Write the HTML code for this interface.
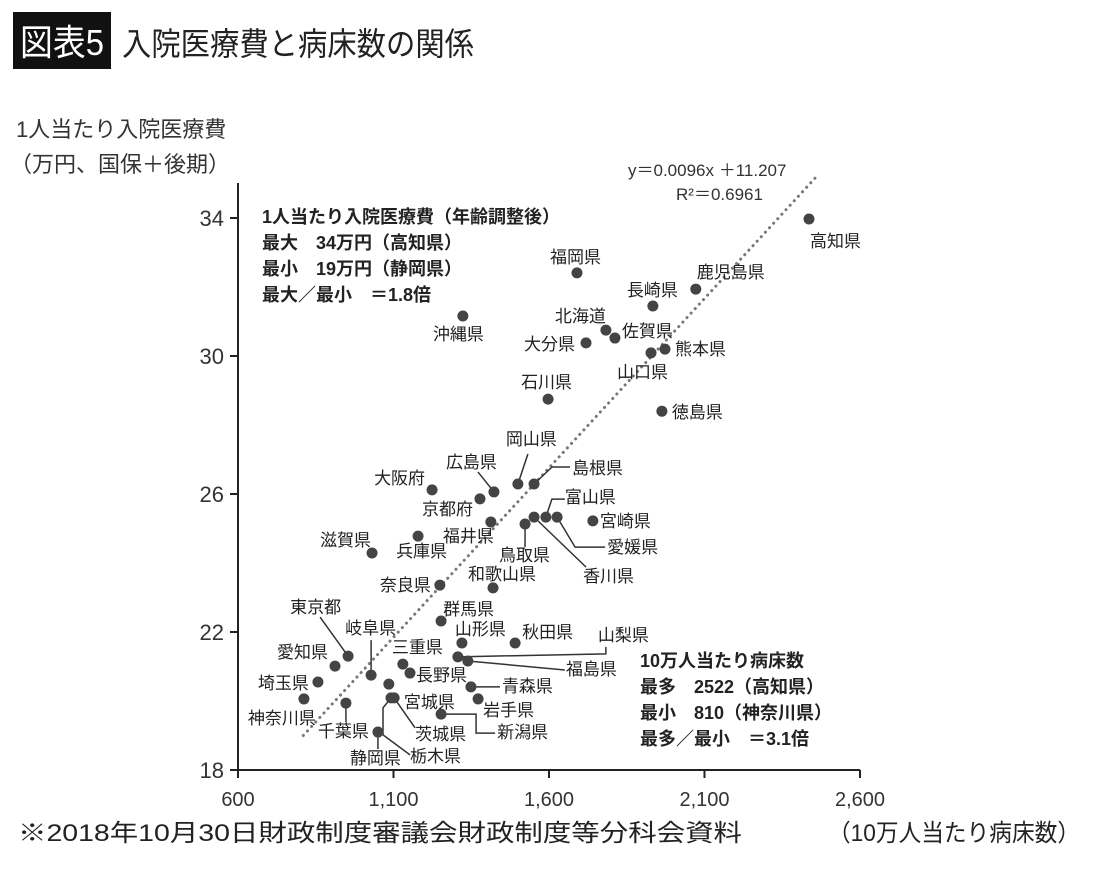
<!DOCTYPE html>
<html><head><meta charset="utf-8"><style>
body{margin:0;background:#fff;}
svg{display:block;font-family:"Liberation Sans","Noto Sans CJK JP",sans-serif;}
</style></head><body>
<svg id="chart" width="1100" height="870" viewBox="0 0 1100 870">
<rect x="13" y="12" width="98" height="57" fill="#111"/>
<text x="62" y="55" fill="#fff" font-size="36" text-anchor="middle" textLength="84" lengthAdjust="spacingAndGlyphs">図表5</text>
<text x="122" y="55" fill="#222" font-size="32" textLength="352" lengthAdjust="spacingAndGlyphs">入院医療費と病床数の関係</text>
<text x="16" y="137" fill="#333" font-size="22">1人当たり入院医療費</text>
<text x="10" y="172" fill="#333" font-size="22">（万円、国保＋後期）</text>
<text x="628" y="176" fill="#333" font-size="17">y＝0.0096x ＋11.207</text>
<text x="676" y="200" fill="#333" font-size="17">R²＝0.6961</text>
<g font-size="18" fill="#222" font-weight="bold">
<text x="262" y="223">1人当たり入院医療費（年齢調整後）</text>
<text x="262" y="249">最大　34万円（高知県）</text>
<text x="262" y="275">最小　19万円（静岡県）</text>
<text x="262" y="301">最大／最小　＝1.8倍</text>
</g>
<g font-size="18" fill="#222" font-weight="bold">
<text x="640" y="667">10万人当たり病床数</text>
<text x="640" y="693">最多　2522（高知県）</text>
<text x="640" y="719">最小　810（神奈川県）</text>
<text x="640" y="745">最多／最小　＝3.1倍</text>
</g>
<text x="18" y="841" fill="#222" font-size="24" textLength="724" lengthAdjust="spacingAndGlyphs">※2018年10月30日財政制度審議会財政制度等分科会資料</text>
<text x="828" y="841" fill="#222" font-size="24" textLength="252" lengthAdjust="spacingAndGlyphs">（10万人当たり病床数）</text>
<g id="axes"></g>
<g id="marks"></g>
</svg>
<script>
const prefectures=["高知県","鹿児島県","福岡県","長崎県","北海道","佐賀県","大分県","熊本県","山口県","沖縄県","石川県","徳島県","岡山県","島根県","広島県","大阪府","京都府","福井県","宮崎県","鳥取県","香川県","富山県","愛媛県","兵庫県","滋賀県","奈良県","和歌山県","群馬県","山形県","秋田県","三重県","山梨県","福島県","長野県","東京都","愛知県","岐阜県","埼玉県","宮城県","青森県","岩手県","神奈川県","茨城県","栃木県","千葉県","新潟県","静岡県"];
const beds=[2436,2072,1690,1934,1783,1812,1719,1973,1928,1323,1597,1963,1500,1552,1423,1224,1378,1413,1741,1523,1552,1590,1626,1179,1031,1249,1420,1253,1320,1491,1130,1307,1339,1153,954,912,1028,857,1085,1349,1372,812,1102,1092,947,1253,1050];
const costs=[33.97,31.94,32.41,31.45,30.75,30.52,30.38,30.20,30.09,31.16,28.75,28.40,26.29,26.29,26.06,26.12,25.86,25.19,25.22,25.13,25.33,25.33,25.33,24.78,24.29,23.36,23.28,22.32,21.68,21.68,21.07,21.28,21.16,20.81,21.30,21.01,20.75,20.55,20.49,20.41,20.06,20.06,20.09,20.09,19.94,19.62,19.10];
const xTicks=[600,1100,1600,2100,2600];
const xTickLabels=["600","1,100","1,600","2,100","2,600"];
const yTicks=[18,22,26,30,34];
const trendX=[810,2460];
const trendY=[19.0,35.2];
const labelLayout=[[1,28],[1,-11],[-27,-10],[-26,-10],[-51,-8],[7,-1],[-62,7],[10,6],[-34,25],[-30,24],[-27,-11],[10,7],
[-12,-39,[[0,0],[10,-30]]],[38,-10,[[0,0],[18,-17],[36,-17]]],[-48,-24,[[0,0],[-16,-20]]],[-58,-6],[-58,16],[-48,20],[7,6],
[-26,37,[[0,0],[0,23]]],[49,65,[[0,0],[52,50]]],[19,-14,[[0,0],[6,-18],[19,-18]]],[50,36,[[0,0],[18,30],[48,30]]],
[-22,21],[-52,-7],[-60,6],[-25,-8],[2,-6],[-7,-8],[7,-5],[-11,-11],
[140,-16,[[0,0],[148,-3],[148,-10]]],[98,14,[[0,0],[97,9]]],[6,8],[-58,-43,[[0,0],[-28,-39]]],[-58,-8],[-26,-41,[[0,0],[0,-35]]],[-60,7],[15,24],
[31,5,[[0,0],[29,0]]],[5,17],[-56,25],[21,42,[[0,0],[21,30]]],[19,64,[[0,0],[-8,10],[-8,37],[19,57]]],[-28,34,[[0,0],[0,19]]],[56,24,[[0,0],[35,0],[35,19],[54,19]]],[-28,32,[[0,0],[0,17]]]];
const X0=238,X1=860,Y0=770,Y1=218;
function sx(v){return X0+(v-600)/(2600-600)*(X1-X0);}
function sy(v){return Y0-(v-18)/(34-18)*(Y0-Y1);}
const NS="http://www.w3.org/2000/svg";
function mk(tag,at,parent){const e=document.createElementNS(NS,tag);for(const k in at)e.setAttribute(k,at[k]);parent.appendChild(e);return e;}
const axes=document.getElementById('axes'),marks=document.getElementById('marks');
let a=mk('line',{x1:X0,y1:183,x2:X0,y2:Y0,stroke:'#222','stroke-width':2},axes);


a=mk('line',{x1:X0,y1:Y0,x2:X1,y2:Y0,stroke:'#222','stroke-width':2},axes);


yTicks.forEach(t=>{
  const tk=mk('line',{x1:X0-8,y1:sy(t),x2:X0,y2:sy(t),stroke:'#222','stroke-width':2},axes);
  
  
  const tl=mk('text',{x:X0-14,y:sy(t)+8,'font-size':22,fill:'#333','text-anchor':'end'},axes);
  tl.textContent=t;
  
  
});
xTicks.forEach((t,i)=>{
  const tk=mk('line',{x1:sx(t),y1:Y0,x2:sx(t),y2:Y0+8,stroke:'#222','stroke-width':2},axes);
  
  
  const tl=mk('text',{x:sx(t),y:Y0+36,'font-size':20,fill:'#333','text-anchor':'middle'},axes);
  tl.textContent=xTickLabels[i];
  
  
});
const tr=mk('line',{x1:sx(trendX[0]),y1:sy(trendY[0]),x2:sx(trendX[1]),y2:sy(trendY[1]),stroke:'#777','stroke-width':3,'stroke-dasharray':'0.1 6','stroke-linecap':'round'},marks);


prefectures.forEach((p,i)=>{
  const px=sx(beds[i]),py=sy(costs[i]);const L=labelLayout[i];
  if(L[2]){
    const pl=mk('polyline',{points:L[2].map(q=>(px+q[0])+','+(py+q[1])).join(' '),fill:'none',stroke:'#333','stroke-width':1.5},marks);
    
    
  }
  const c=mk('circle',{cx:px,cy:py,r:5.5,fill:'#444'},marks);
  
  
  const t=mk('text',{x:px+L[0],y:py+L[1],'font-size':17,fill:'#222'},marks);
  t.textContent=p;
  
  
});
</script>
</body></html>
